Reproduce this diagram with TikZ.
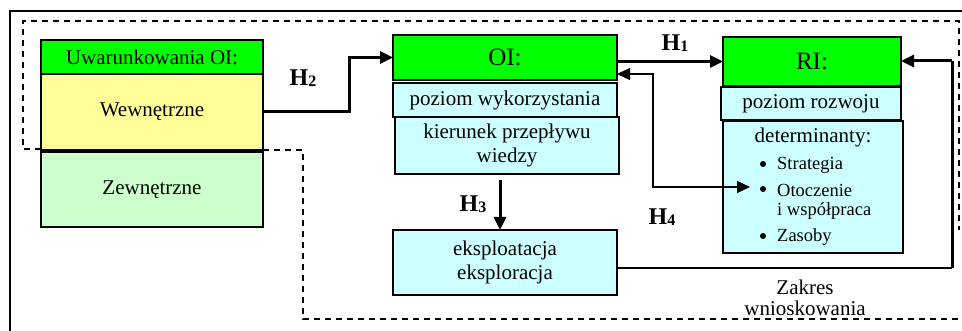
\documentclass[tikz,border=0pt]{standalone}
\usepackage{fontspec}
\setmainfont{Liberation Serif}
\usetikzlibrary{arrows.meta}
\definecolor{hgreen}{HTML}{00FF00}
\definecolor{hcyan}{HTML}{CCFFFF}
\definecolor{hyellow}{HTML}{FFFF99}
\definecolor{hlgreen}{HTML}{CCFFCC}
\newcommand{\hlabel}[1]{H\raisebox{-1.5pt}{\fontsize{16}{16}\bfseries\selectfont #1}}
\begin{document}
\begin{tikzpicture}[x=1pt,y=-1pt,
  boxs/.style={draw, line width=1.6pt, inner sep=0pt, outer sep=0pt, anchor=north west, align=center, font=\fontsize{21}{24}\selectfont},
  bigtext/.style={font=\fontsize{25}{27}\selectfont},
  bul/.style={anchor=west, inner sep=0pt, font=\fontsize{18.5}{20}\selectfont},
  dot/.style={circle, fill=black, inner sep=0pt, minimum size=6pt},
  hlab/.style={font=\fontsize{24}{24}\bfseries\selectfont, inner sep=0pt},
  thickarrow/.style={line width=3pt, -{Triangle[length=13pt,width=12pt]}},
  thickline/.style={line width=3pt},
  thinline/.style={line width=1.3pt},
  dashline/.style={line width=1.4pt, dash pattern=on 6pt off 5pt}
]
\useasboundingbox (0,0) rectangle (962,331);
% outer frame
\coordinate (f1) at (10,331);
\coordinate (f2) at (10,11);
\coordinate (f3) at (962,11);
\draw[line width=1.6pt] (f1) -- (f2) -- (f3);
% dashed region
\coordinate (d1) at (41,149);
\coordinate (d2) at (23,149);
\coordinate (d3) at (23,21);
\coordinate (d4) at (959,21);
\coordinate (d5) at (959,230);
\coordinate (d6) at (263,150);
\coordinate (d7) at (303,150);
\coordinate (d8) at (303,319);
\coordinate (d9) at (962,319);
\draw[dashline] (d1) -- (d2) -- (d3) -- (d4) -- (d5);
\draw[dashline] (d6) -- (d7) -- (d8) -- (d9);

% left boxes
\node[boxs, fill=hgreen, minimum width=222pt, minimum height=34pt] (uhead) at (41,40) {Uwarunkowania OI:};
\node[boxs, fill=hyellow, minimum width=222pt, minimum height=76pt] (wew) at (41,74) {Wewnętrzne};
\node[boxs, fill=hlgreen, minimum width=222pt, minimum height=75pt] (zew) at (41,152) {Zewnętrzne};

% OI boxes
\node[boxs, bigtext, fill=hgreen, minimum width=224pt, minimum height=45pt] (oihead) at (393,35) {OI:};
\node[boxs, fill=hcyan, minimum width=224pt, minimum height=34pt] (poz) at (393,83) {poziom wykorzystania};
\node[boxs, fill=hcyan, minimum width=224pt, minimum height=57pt] (kier) at (395,117) {kierunek przepływu\\wiedzy};
\node[boxs, fill=hcyan, minimum width=224pt, minimum height=65pt] (eks) at (393,230) {eksploatacja\\eksploracja};

% RI boxes
\node[boxs, bigtext, fill=hgreen, minimum width=178pt, minimum height=49pt] (rihead) at (723,37) {RI:};
\node[boxs, fill=hcyan, minimum width=180pt, minimum height=33pt] (rozw) at (721,87) {poziom rozwoju};
\node[boxs, fill=hcyan, minimum width=180pt, minimum height=132pt] (det) at (723,121) {};
\node[font=\fontsize{21}{24}\selectfont, inner sep=0pt] (dett) at (813,137) {determinanty:};
\node[dot] (p1) at (763,164) {};
\node[bul] (b1) at (777,165) {Strategia};
\node[dot] (p2) at (763,189) {};
\node[bul] (b2) at (777,190) {Otoczenie};
\node[bul] (b2b) at (777,211) {i współpraca};
\node[dot] (p3) at (763,236) {};
\node[bul] (b3) at (777,237) {Zasoby};

% Zakres wnioskowania
\node[align=center, font=\fontsize{21}{21}\selectfont, inner sep=0pt] (zakres) at (805,298) {Zakres\\wnioskowania};

% H labels
\node[hlab] (h1l) at (675,43) {\hlabel{1}};
\node[hlab] (h2l) at (303,78) {\hlabel{2}};
\node[hlab] (h3l) at (473,204) {\hlabel{3}};
\node[hlab] (h4l) at (662,217) {\hlabel{4}};

% H2 connector
\coordinate (h2a) at (349,112);
\draw[thickarrow] (wew.east) -- (h2a) |- (oihead.west);
% H1 connector
\draw[thickarrow] (oihead.east |- rihead.west) -- (rihead.west);
% H4 connector
\coordinate (h4a) at (653,74);
\coordinate (h4b) at (653,187);
\coordinate (h4c) at (750,187);
\draw[thinline, {Triangle[length=13pt,width=12pt]}-{Triangle[length=13pt,width=12pt]}] (oihead.east |- h4a) -- (h4a) -- (h4b) -- (h4c);
% H3 connector
\coordinate (h3a) at (500,180);
\draw[thickarrow] (h3a) -- (h3a |- eks.north);
% return connector
\coordinate (r1) at (952,268);
\coordinate (r2) at (952,61);
\draw[thinline] (eks.east |- r1) -- (r1);
\draw[thickline] (r1) -- (r2);
\draw[thickarrow] (r2) -- (rihead.east |- r2);
\end{tikzpicture}
\end{document}
